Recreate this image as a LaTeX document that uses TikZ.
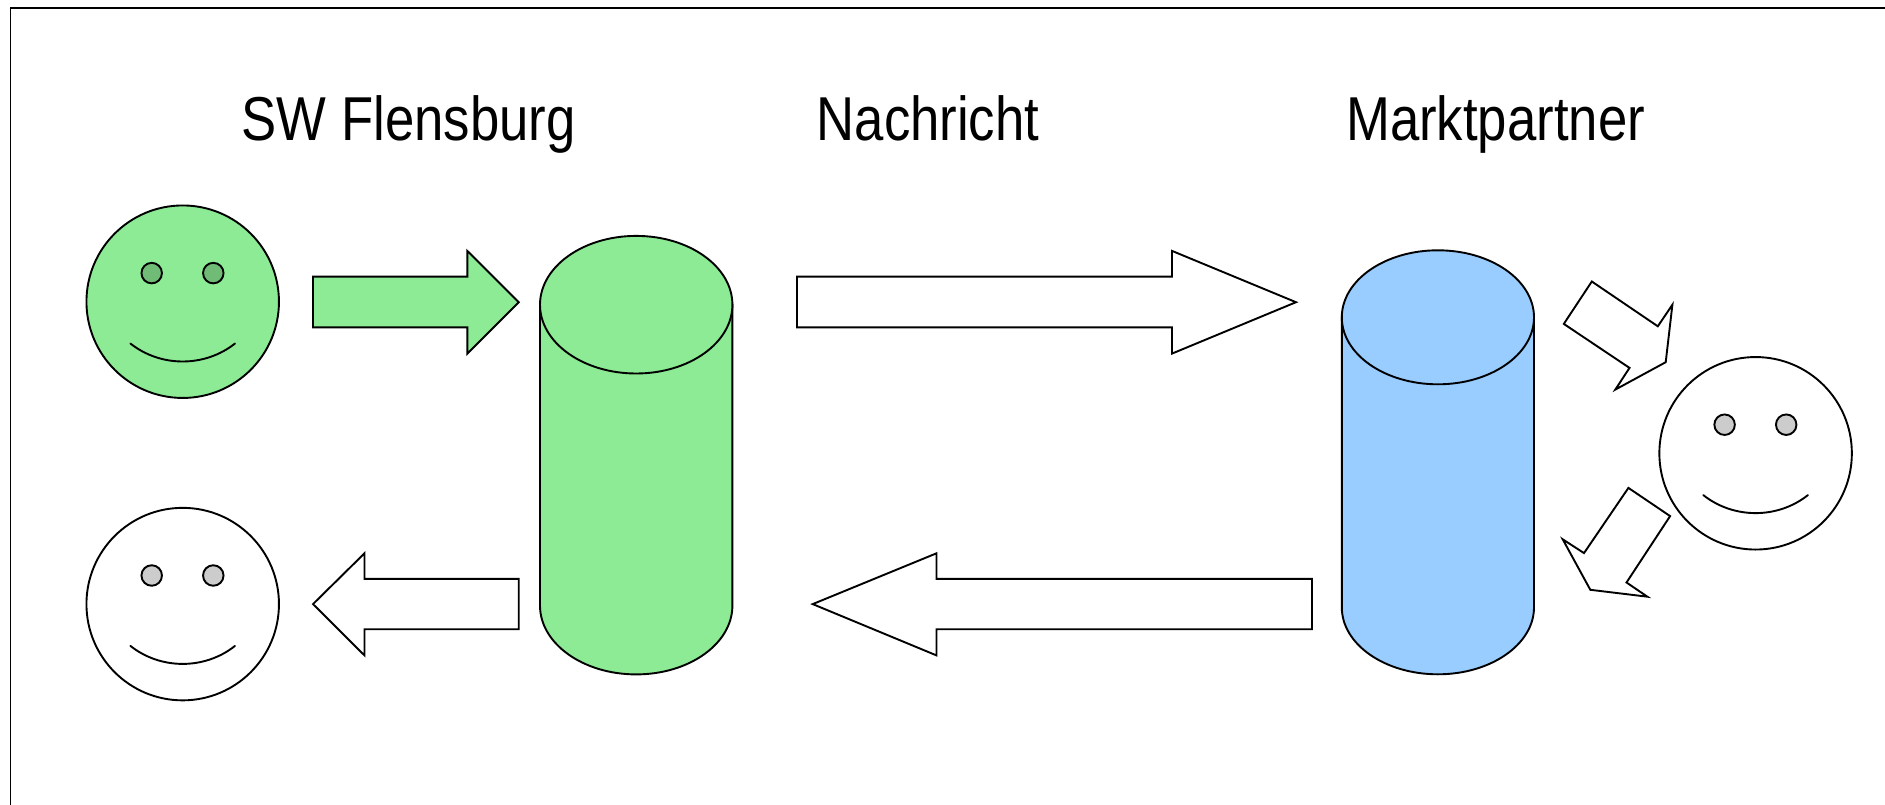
\documentclass[tikz,border=0pt]{standalone}
\usepackage{fontspec}
\setmainfont{Liberation Sans}
\definecolor{grn}{RGB}{140,235,148}
\definecolor{grneye}{RGB}{112,188,118}
\definecolor{blu}{RGB}{153,204,255}
\definecolor{gry}{RGB}{204,204,204}
\tikzset{
  line/.style={draw=black,line width=1.9pt,line join=miter},
  head/.style={circle,line,minimum size=192.5pt,inner sep=0pt,outer sep=0pt},
  eye/.style={circle,line,minimum size=20.5pt,inner sep=0pt,outer sep=0pt},
  title/.style={font=\fontsize{62}{62}\selectfont,anchor=base,transform shape,xscale=0.85,inner sep=0pt},
  blockarrow/.style={line,fill=white},
}
\newcommand{\smiley}[5]{%
  \node[head,fill=#4] (#1) at (#2,#3) {};
  \node[eye,fill=#5] (#1L) at ($(#1)+(-31,-28.6)$) {};
  \node[eye,fill=#5] (#1R) at ($(#1)+(30.6,-28.6)$) {};
  \draw[line,line cap=round] ($(#1)+(-52.3,41.8)$) .. controls ($(#1)+(-22,65.8)$) and ($(#1)+(22,65.8)$) .. ($(#1)+(52.3,41.8)$);
}
% name, centre x, top-ellipse y, bottom-ellipse y, radii, fill
\newcommand{\drum}[7]{%
  \coordinate (#1top) at (#2,#3);
  \coordinate (#1bot) at (#2,#4);
  \path[line,fill=#7] ($(#1top)+(-#5,0)$) -- ($(#1bot)+(-#5,0)$) arc[start angle=180,end angle=0,x radius=#5,y radius=#6] -- ($(#1top)+(#5,0)$) -- cycle;
  \path[line,fill=#7] (#1top) circle[x radius=#5,y radius=#6];
}
\usetikzlibrary{calc}
\begin{document}
\begin{tikzpicture}[x=1pt,y=-1pt]
\useasboundingbox (0,0) rectangle (1885,805);
\coordinate (fa) at (10.5,805);
\coordinate (fb) at (10.5,8);
\coordinate (fc) at (1885,8);
\draw[line] (fa) -- (fb) -- (fc);

\node[title] (t1) at (408.6,141) {SW Flensburg};
\node[title] (t2) at (928,141) {Nachricht};
\node[title] (t3) at (1495.5,141) {Marktpartner};

\begin{scope}[yshift=-0.9pt]
\smiley{fa1}{182.7}{300.8}{grn}{grneye}
\smiley{fa2}{182.7}{603.2}{white}{gry}
\smiley{fa3}{1755.6}{452.4}{white}{gry}

\drum{cg}{636.2}{303.8}{604.7}{96.2}{68.8}{grn}
\drum{cb}{1437.9}{316.4}{606.4}{96.1}{67}{blu}

% block arrows
\path[line,fill=grn] (313,275.7) -- (467.3,275.7) -- (467.3,250) -- (518.7,301.3) -- (467.3,352.7) -- (467.3,326.5) -- (313,326.5) -- cycle;
\path[blockarrow] (797,275.7) -- (1172,275.7) -- (1172,250) -- (1296,301.3) -- (1172,352.7) -- (1172,326.5) -- (797,326.5) -- cycle;
\path[blockarrow] (518.7,578) -- (364.5,578) -- (364.5,552.4) -- (313,603.2) -- (364.5,654.5) -- (364.5,628.3) -- (518.7,628.3) -- cycle;
\path[blockarrow] (1312,578) -- (936.5,578) -- (936.5,552.4) -- (812.7,603.2) -- (936.5,654.5) -- (936.5,628.3) -- (1312,628.3) -- cycle;
\path[blockarrow] (1591.8,280.6) -- (1657.8,325.4) -- (1672.4,303.8) -- (1665.7,361.3) -- (1615.3,388.7) -- (1629.5,367) -- (1563.8,323) -- cycle;
\path[blockarrow] (1628.4,487) -- (1670.1,515.2) -- (1626.5,581.6) -- (1647.4,595.8) -- (1590.3,588.9) -- (1562.7,538.4) -- (1584,552.2) -- cycle;
\end{scope}
\end{tikzpicture}
\end{document}
